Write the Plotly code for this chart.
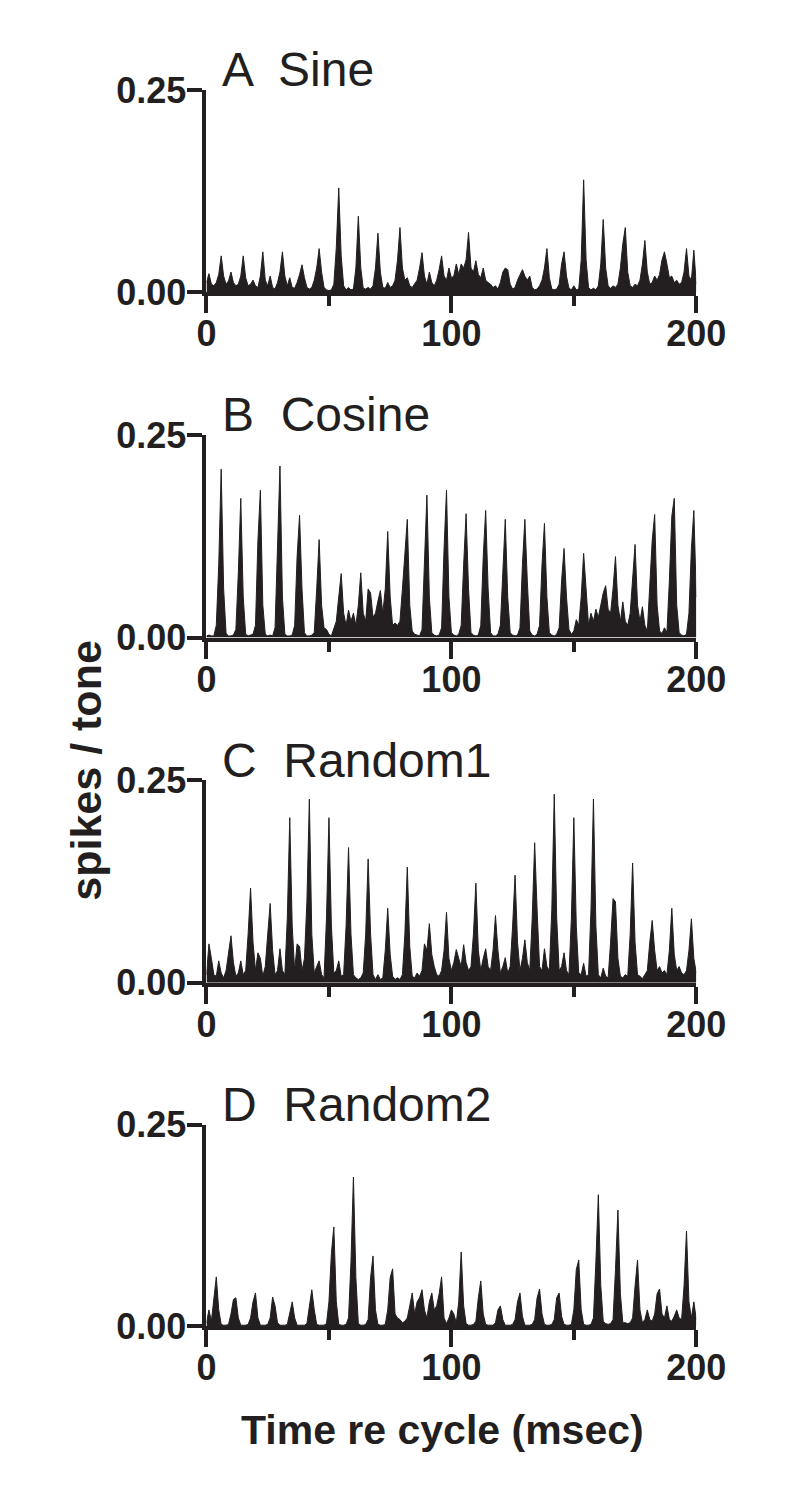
import plotly.graph_objects as go

# Time bins (ms), 1 ms resolution, 0..200
time_ms = list(range(0, 201))

sine = [
0.012,0.023,0.010,0.008,0.012,0.022,0.045,0.020,0.010,0.014,
0.025,0.012,0.008,0.010,0.020,0.045,0.018,0.008,0.010,0.015,
0.008,0.006,0.020,0.050,0.015,0.008,0.020,0.006,0.004,0.012,
0.025,0.050,0.020,0.008,0.018,0.006,0.005,0.012,0.022,0.034,
0.018,0.006,0.004,0.006,0.015,0.030,0.054,0.025,0.006,0.003,
0.002,0.003,0.010,0.055,0.129,0.045,0.008,0.003,0.006,0.003,
0.004,0.030,0.094,0.030,0.005,0.004,0.006,0.004,0.008,0.030,
0.073,0.025,0.006,0.005,0.012,0.006,0.008,0.015,0.040,0.080,
0.030,0.015,0.018,0.008,0.006,0.010,0.015,0.030,0.049,0.020,
0.010,0.025,0.012,0.008,0.015,0.028,0.045,0.020,0.015,0.030,
0.018,0.020,0.035,0.022,0.035,0.030,0.040,0.074,0.030,0.025,
0.039,0.022,0.018,0.030,0.015,0.012,0.010,0.006,0.008,0.004,
0.012,0.025,0.030,0.028,0.010,0.004,0.006,0.015,0.022,0.028,
0.020,0.015,0.020,0.006,0.003,0.004,0.008,0.015,0.030,0.054,
0.018,0.004,0.003,0.004,0.010,0.035,0.050,0.020,0.005,0.003,
0.008,0.003,0.004,0.040,0.139,0.040,0.006,0.003,0.005,0.003,
0.008,0.035,0.090,0.030,0.008,0.005,0.008,0.006,0.010,0.030,
0.060,0.080,0.025,0.008,0.006,0.010,0.008,0.015,0.035,0.064,
0.025,0.010,0.012,0.020,0.015,0.022,0.040,0.050,0.035,0.018,
0.020,0.012,0.015,0.010,0.012,0.025,0.054,0.020,0.015,0.052,
0.010]

cosine = [
0.002,0.003,0.002,0.002,0.015,0.090,0.208,0.060,0.005,0.002,
0.002,0.003,0.010,0.080,0.172,0.050,0.004,0.002,0.003,0.004,
0.015,0.120,0.182,0.040,0.004,0.002,0.003,0.002,0.012,0.100,
0.212,0.050,0.004,0.002,0.002,0.003,0.015,0.100,0.151,0.060,
0.006,0.002,0.002,0.003,0.006,0.060,0.121,0.040,0.012,0.010,
0.004,0.002,0.010,0.020,0.050,0.079,0.030,0.015,0.034,0.020,
0.030,0.015,0.040,0.080,0.030,0.020,0.060,0.055,0.025,0.030,
0.045,0.058,0.030,0.060,0.131,0.050,0.015,0.018,0.015,0.020,
0.060,0.110,0.146,0.040,0.008,0.004,0.003,0.002,0.010,0.100,
0.176,0.050,0.006,0.003,0.002,0.003,0.012,0.110,0.182,0.050,
0.006,0.003,0.002,0.004,0.015,0.090,0.153,0.060,0.006,0.003,
0.002,0.003,0.015,0.100,0.157,0.060,0.006,0.002,0.002,0.004,
0.015,0.080,0.146,0.050,0.006,0.003,0.002,0.003,0.012,0.090,
0.146,0.070,0.008,0.003,0.002,0.004,0.015,0.090,0.141,0.050,
0.006,0.003,0.002,0.004,0.012,0.070,0.110,0.050,0.010,0.004,
0.008,0.022,0.015,0.050,0.104,0.060,0.015,0.030,0.020,0.035,
0.025,0.040,0.055,0.064,0.035,0.030,0.060,0.100,0.040,0.020,
0.044,0.020,0.015,0.030,0.080,0.115,0.040,0.020,0.038,0.015,
0.008,0.060,0.120,0.152,0.040,0.008,0.005,0.012,0.006,0.070,
0.150,0.172,0.040,0.006,0.003,0.002,0.004,0.030,0.110,0.157,
0.050]

random1 = [
0.010,0.048,0.030,0.010,0.008,0.027,0.012,0.006,0.015,0.040,
0.058,0.025,0.008,0.012,0.027,0.010,0.015,0.060,0.117,0.050,
0.015,0.037,0.030,0.008,0.020,0.060,0.098,0.040,0.010,0.015,
0.042,0.015,0.010,0.080,0.204,0.070,0.015,0.048,0.045,0.015,
0.030,0.100,0.227,0.060,0.012,0.020,0.027,0.010,0.006,0.080,
0.204,0.070,0.012,0.015,0.027,0.008,0.010,0.070,0.167,0.060,
0.010,0.006,0.004,0.006,0.012,0.060,0.153,0.060,0.010,0.004,
0.010,0.004,0.006,0.040,0.092,0.035,0.008,0.004,0.006,0.004,
0.010,0.060,0.143,0.045,0.008,0.006,0.012,0.008,0.015,0.048,
0.040,0.073,0.035,0.020,0.010,0.008,0.015,0.040,0.087,0.030,
0.015,0.025,0.041,0.030,0.020,0.047,0.025,0.015,0.020,0.060,
0.123,0.040,0.015,0.030,0.042,0.020,0.015,0.040,0.083,0.040,
0.012,0.020,0.031,0.012,0.020,0.070,0.133,0.050,0.015,0.030,
0.053,0.025,0.015,0.080,0.173,0.090,0.020,0.015,0.042,0.020,
0.015,0.090,0.233,0.080,0.015,0.020,0.037,0.015,0.010,0.080,
0.204,0.070,0.012,0.010,0.024,0.008,0.010,0.090,0.227,0.070,
0.010,0.006,0.018,0.008,0.006,0.050,0.104,0.100,0.030,0.008,
0.006,0.010,0.008,0.060,0.148,0.050,0.010,0.008,0.005,0.010,
0.015,0.050,0.077,0.040,0.015,0.020,0.012,0.015,0.010,0.040,
0.092,0.035,0.015,0.020,0.012,0.010,0.015,0.040,0.079,0.030,
0.012]

random2 = [
0.004,0.020,0.006,0.030,0.061,0.020,0.002,0.001,0.001,0.002,
0.015,0.033,0.035,0.010,0.001,0.001,0.001,0.002,0.010,0.030,
0.041,0.010,0.001,0.001,0.001,0.002,0.010,0.036,0.025,0.004,
0.001,0.001,0.001,0.002,0.015,0.030,0.010,0.001,0.001,0.001,
0.001,0.003,0.025,0.045,0.020,0.002,0.001,0.001,0.001,0.003,
0.030,0.090,0.123,0.030,0.002,0.001,0.001,0.002,0.010,0.080,
0.185,0.060,0.003,0.001,0.001,0.002,0.008,0.060,0.087,0.020,
0.002,0.001,0.001,0.002,0.020,0.060,0.071,0.015,0.010,0.008,
0.004,0.006,0.010,0.025,0.041,0.015,0.030,0.035,0.045,0.020,
0.010,0.030,0.041,0.020,0.025,0.040,0.061,0.010,0.003,0.010,
0.020,0.015,0.004,0.030,0.092,0.025,0.003,0.001,0.001,0.002,
0.006,0.035,0.056,0.015,0.002,0.001,0.001,0.001,0.004,0.020,
0.025,0.008,0.001,0.001,0.001,0.002,0.008,0.030,0.041,0.012,
0.001,0.001,0.001,0.002,0.008,0.035,0.046,0.015,0.002,0.001,
0.001,0.002,0.008,0.035,0.041,0.012,0.002,0.001,0.001,0.002,
0.020,0.070,0.082,0.020,0.002,0.001,0.001,0.002,0.010,0.080,
0.163,0.050,0.006,0.003,0.002,0.003,0.008,0.070,0.144,0.040,
0.004,0.004,0.003,0.004,0.010,0.050,0.082,0.020,0.004,0.008,
0.020,0.008,0.006,0.015,0.040,0.046,0.015,0.010,0.025,0.008,
0.006,0.012,0.020,0.010,0.008,0.050,0.118,0.030,0.010,0.030,
0.008]

panel_titles = ["A  Sine", "B  Cosine", "C  Random1", "D  Random2"]
series = [sine, cosine, random1, random2]
y_tick_vals = [0, 0.25]
y_tick_text = ["0.00", "0.25"]
x_tick_vals = [0, 100, 200]
x_tick_text = ["0", "100", "200"]
x_minor_ticks = [50, 150]

W, H = 788, 1488
INK = "#231f20"
FONT = "Liberation Sans, Arial, Helvetica, sans-serif"

# pixel layout of each panel: (top px, bottom px)
panel_px = [(72, 280), (427, 635), (782, 990), (1136, 1343)]
x_left, x_right = 207, 723

def py(p):
    return 1 - p / H

def px(p):
    return p / W

fig = go.Figure()
layout = dict(
    width=W, height=H,
    margin=dict(l=0, r=0, t=0, b=0),
    paper_bgcolor="white", plot_bgcolor="white",
    showlegend=False,
    font=dict(family=FONT, color=INK),
    annotations=[],
)

for i, (vals, title) in enumerate(zip(series, panel_titles)):
    n = "" if i == 0 else str(i + 1)
    fig.add_trace(go.Scatter(
        x=time_ms, y=vals, mode="lines",
        line=dict(color=INK, width=1),
        fill="tozeroy", fillcolor=INK,
        xaxis="x" + n, yaxis="y" + n, hoverinfo="skip",
    ))
    top, bot = panel_px[i]
    layout["xaxis" + n] = dict(
        domain=[px(x_left), px(x_right)], anchor="y" + n,
        range=[0, 200], showgrid=False, zeroline=False, fixedrange=True,
        showline=True, linecolor=INK, linewidth=4,
        ticks="outside", ticklen=17, tickwidth=4, tickcolor=INK,
        tickvals=x_tick_vals, ticktext=x_tick_text,
        ticklabelstandoff=-10,
        tickfont=dict(family=FONT, size=36, color=INK, weight="bold"),
        minor=dict(tickvals=x_minor_ticks, ticks="outside", ticklen=10,
                   tickwidth=4, tickcolor=INK),
    )
    layout["yaxis" + n] = dict(
        domain=[py(bot), py(top)], anchor="x" + n,
        range=[0, 0.25], showgrid=False, zeroline=False, fixedrange=True,
        showline=True, linecolor=INK, linewidth=4,
        ticks="outside", ticklen=15, tickwidth=4, tickcolor=INK,
        tickvals=y_tick_vals, ticktext=y_tick_text,
        ticklabelstandoff=-6,
        tickfont=dict(family=FONT, size=36, color=INK, weight="bold"),
    )
    layout["annotations"].append(dict(
        text=title, xref="paper", yref="paper",
        x=px(221), y=py(top - 21), xanchor="left", yanchor="middle",
        showarrow=False, font=dict(family=FONT, size=48, color=INK),
    ))

layout["annotations"].append(dict(
    text="<b>Time re cycle (msec)</b>", xref="paper", yref="paper",
    x=px(456), y=py(1450), xanchor="center", yanchor="middle",
    showarrow=False, font=dict(family=FONT, size=41, color=INK),
))
layout["annotations"].append(dict(
    text="<b>spikes / tone</b>", xref="paper", yref="paper",
    x=px(80), y=py(772), xanchor="center", yanchor="middle",
    textangle=-90, showarrow=False, font=dict(family=FONT, size=43, color=INK),
))

fig.update_layout(**layout)
# remove the browser's default 8px body margin so the figure sits at (0, 0)
fig.write_html(
    "out.html",
    config={"displayModeBar": False, "staticPlot": True},
    post_script="document.body.style.margin='0px';",
)
